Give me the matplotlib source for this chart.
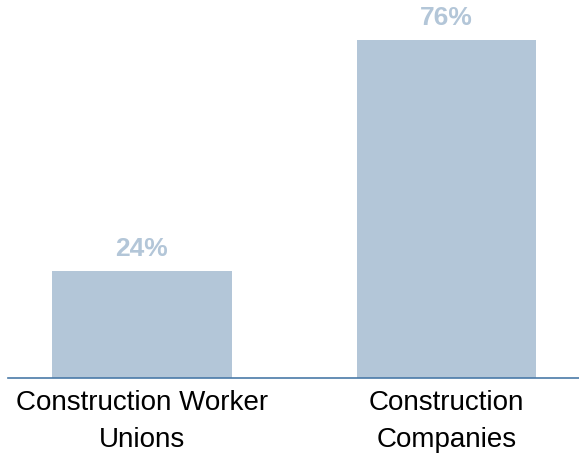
import matplotlib.pyplot as plt

categories = ["Construction Worker\nUnions", "Construction\nCompanies"]
values = [24, 76]
labels = ["24%", "76%"]

bar_color = "#b3c6d8"
text_color = "#b3c6d8"
axis_color = "#4a7aa8"

plt.rcParams['font.family'] = ['Liberation Sans', 'DejaVu Sans']

fig = plt.figure(figsize=(5.79, 4.54), dpi=100)
ax = fig.add_axes([8 / 579, 76 / 454, 571 / 579, 378 / 454])

x = list(range(len(categories)))
bars = ax.bar(x, values, width=0.59, color=bar_color)

for b, lab in zip(bars, labels):
    ax.annotate(lab, (b.get_x() + b.get_width() / 2, b.get_height()),
                xytext=(0, 7.5), textcoords="offset points",
                ha="center", va="bottom", fontsize=19, fontweight="bold",
                color=text_color)

ax.set_xlim(-0.44, 1.435)
ax.set_ylim(0, 85.1)
ax.set_xticks(x)
ax.set_xticklabels(categories, fontsize=20, color="black", linespacing=1.55)
ax.tick_params(axis="x", length=0, pad=8.5)
ax.set_yticks([])
for s in ["top", "left", "right"]:
    ax.spines[s].set_visible(False)
ax.spines["bottom"].set_color(axis_color)
ax.spines["bottom"].set_linewidth(1.2)

fig.savefig("out.png", dpi=100)
